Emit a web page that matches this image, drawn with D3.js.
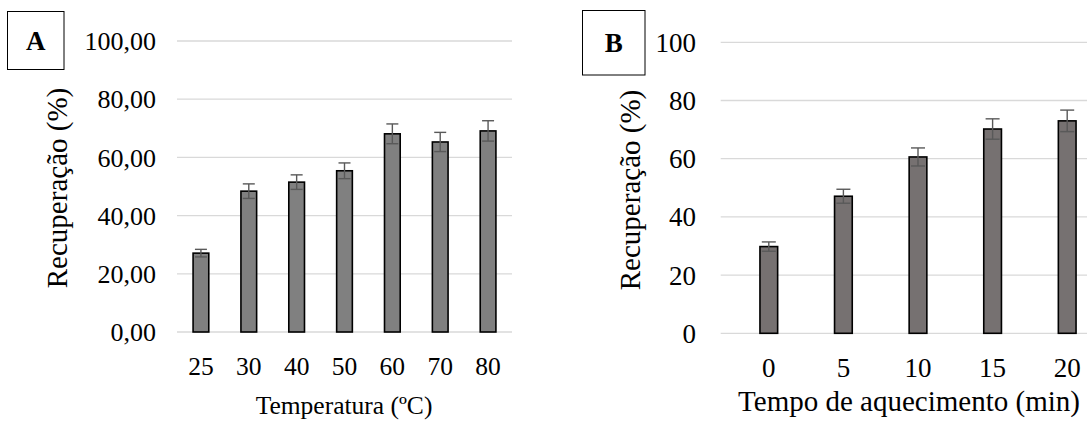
<!DOCTYPE html>
<html>
<head>
<meta charset="utf-8">
<script src="https://cdn.jsdelivr.net/npm/d3@7"></script>
<style>
  html, body { margin: 0; padding: 0; background: #fff; overflow: hidden; }
  svg { display: block; }
  svg text { font-family: "Liberation Serif", "Times New Roman", serif; }
</style>
</head>
<body>
<script>
// panel A: recovery vs temperature
var tempLabels = ["25", "30", "40", "50", "60", "70", "80"];
var tempValues = [27.1, 48.4, 51.5, 55.4, 68.1, 65.3, 69.1];
var tempErrors = [1.3, 2.5, 2.5, 2.7, 3.4, 3.3, 3.5];
var yTicksA = [0, 20, 40, 60, 80, 100];

// panel B: recovery vs heating time
var timeLabels = ["0", "5", "10", "15", "20"];
var timeValues = [29.8, 47.1, 60.6, 70.2, 73.0];
var timeErrors = [1.6, 2.4, 3.1, 3.5, 3.7];
var yTicksB = [0, 20, 40, 60, 80, 100];

var svg = d3.select(document.body).append("svg")
    .attr("width", 1087)
    .attr("height", 426);

function panel(opt) {
  var g = svg.append("g");

  var x = d3.scaleBand()
      .domain(opt.labels)
      .range([opt.x0, opt.x1]);

  var y = d3.scaleLinear()
      .domain([0, 100])
      .range([opt.y0, opt.y1]);

  // gridlines
  g.selectAll("line.grid")
    .data(opt.ticks)
    .join("line")
    .attr("class", "grid")
    .attr("x1", opt.gridStart)
    .attr("x2", opt.gridEnd)
    .attr("y1", d => y(d))
    .attr("y2", d => y(d))
    .attr("stroke", "#d9d9d9")
    .attr("stroke-width", 1.3);

  // y tick labels
  g.selectAll("text.ytick")
    .data(opt.ticks)
    .join("text")
    .attr("class", "ytick")
    .attr("x", opt.tickX)
    .attr("y", d => y(d))
    .attr("dy", "0.35em")
    .attr("text-anchor", "end")
    .attr("font-size", opt.fsY)
    .text(d => opt.fmt(d));

  var data = opt.labels.map((l, i) => ({ label: l, value: opt.values[i], err: opt.errors[i] }));
  var cx = d => x(d.label) + x.bandwidth() / 2;

  g.selectAll("rect.bar")
    .data(data)
    .join("rect")
    .attr("class", "bar")
    .attr("x", d => cx(d) - opt.barW / 2)
    .attr("y", d => y(d.value))
    .attr("width", opt.barW)
    .attr("height", d => y(0) - y(d.value))
    .attr("fill", opt.color)
    .attr("stroke", "#000")
    .attr("stroke-width", 1.6);

  // error bars
  var eb = g.selectAll("g.err")
    .data(data)
    .join("g")
    .attr("class", "err")
    .attr("stroke", "#595959")
    .attr("stroke-width", 1.4);
  eb.append("line")
    .attr("x1", cx).attr("x2", cx)
    .attr("y1", d => y(d.value + d.err))
    .attr("y2", d => y(d.value - d.err));
  eb.selectAll("line.cap")
    .data(d => [d.value + d.err, d.value - d.err].map(v => ({ c: cx(d), v: v })))
    .join("line")
    .attr("class", "cap")
    .attr("x1", d => d.c - opt.cap).attr("x2", d => d.c + opt.cap)
    .attr("y1", d => y(d.v)).attr("y2", d => y(d.v));

  // x tick labels
  g.selectAll("text.xtick")
    .data(opt.labels)
    .join("text")
    .attr("class", "xtick")
    .attr("x", d => x(d) + x.bandwidth() / 2)
    .attr("y", opt.xTickY)
    .attr("text-anchor", "middle")
    .attr("font-size", opt.fsX)
    .text(d => d);

  // axis titles
  g.append("text")
    .attr("x", opt.xTitleX)
    .attr("y", opt.xTitleY)
    .attr("text-anchor", "middle")
    .attr("font-size", opt.fsXT)
    .text(opt.xTitle);

  g.append("text")
    .attr("transform", "translate(" + opt.yTitleX + "," + opt.yTitleY + ") rotate(-90)")
    .attr("text-anchor", "middle")
    .attr("font-size", opt.fsYT)
    .text("Recuperação (%)");

  // panel letter box
  g.append("rect")
    .attr("x", opt.box[0]).attr("y", opt.box[1])
    .attr("width", opt.box[2]).attr("height", opt.box[3])
    .attr("fill", "#fff")
    .attr("stroke", "#000")
    .attr("stroke-width", 1);
  g.append("text")
    .attr("x", opt.box[0] + opt.box[2] / 2)
    .attr("y", opt.box[1] + opt.box[3] / 2)
    .attr("dy", "0.35em")
    .attr("text-anchor", "middle")
    .attr("font-size", 27)
    .attr("font-weight", "bold")
    .text(opt.letter);
}

panel({
  labels: tempLabels, values: tempValues, errors: tempErrors, ticks: yTicksA,
  x0: 177, x1: 512, gridStart: 177, gridEnd: 512, y0: 332, y1: 41,
  barW: 15.7, cap: 6, color: "#808080",
  fsY: 26, fsX: 25.5, fsXT: 25.5, fsYT: 29,
  fmt: d => d3.format(".2f")(d).replace(".", ","),
  tickX: 156, xTickY: 375, xTitle: "Temperatura (ºC)", xTitleX: 344, xTitleY: 414,
  yTitleX: 67, yTitleY: 188, box: [7.5, 11.5, 56.5, 58], letter: "A"
});

panel({
  labels: timeLabels, values: timeValues, errors: timeErrors, ticks: yTicksB,
  x0: 731.5, x1: 1104.5, gridStart: 720.7, gridEnd: 1087, y0: 333.3, y1: 42.3,
  barW: 17.7, cap: 7, color: "#767171",
  fsY: 27, fsX: 27, fsXT: 29, fsYT: 29,
  fmt: d => String(d),
  tickX: 696, xTickY: 377, xTitle: "Tempo de aquecimento (min)", xTitleX: 909, xTitleY: 411,
  yTitleX: 640, yTitleY: 190, box: [582.5, 10.5, 62.5, 64.5], letter: "B"
});
</script>
</body>
</html>
